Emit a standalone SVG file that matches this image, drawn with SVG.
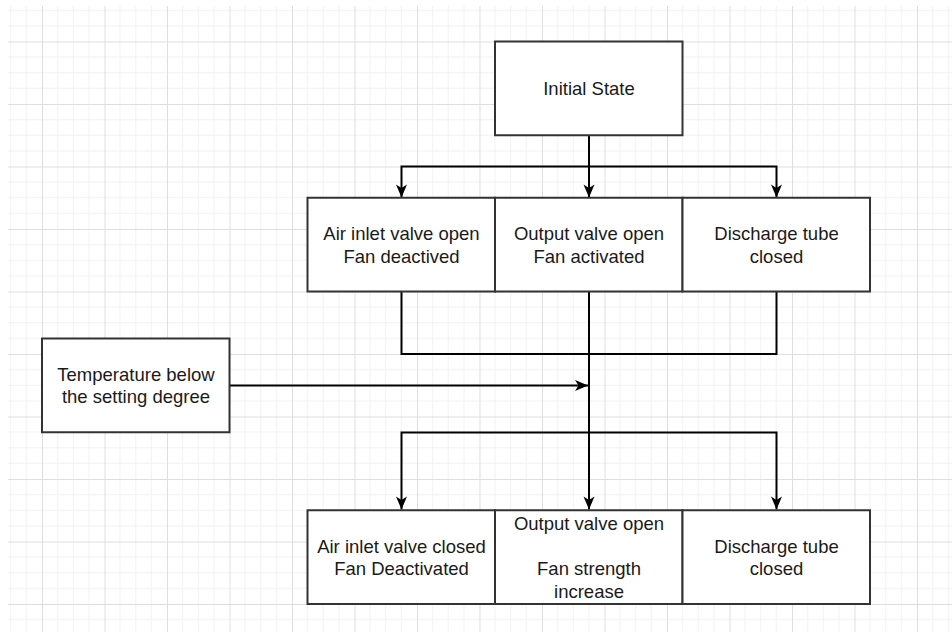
<svg xmlns="http://www.w3.org/2000/svg" width="952" height="632" viewBox="0 0 952 632">
  <defs>
    <pattern id="grid" patternUnits="userSpaceOnUse" x="-20.5" y="-21" width="62.5" height="62.5">
      <g stroke="#f1f1f1" stroke-width="1">
        <line x1="15.625" y1="0" x2="15.625" y2="62.5"/>
        <line x1="31.25" y1="0" x2="31.25" y2="62.5"/>
        <line x1="46.875" y1="0" x2="46.875" y2="62.5"/>
        <line x1="0" y1="15.625" x2="62.5" y2="15.625"/>
        <line x1="0" y1="31.25" x2="62.5" y2="31.25"/>
        <line x1="0" y1="46.875" x2="62.5" y2="46.875"/>
      </g>
      <g stroke="#dedede" stroke-width="1">
        <line x1="0.5" y1="0" x2="0.5" y2="62.5"/>
        <line x1="0" y1="0.5" x2="62.5" y2="0.5"/>
      </g>
    </pattern>
    <marker id="arrow" markerUnits="userSpaceOnUse" markerWidth="13" markerHeight="11" refX="13" refY="5.5" orient="auto" overflow="visible">
      <path d="M0,0 L13,5.5 L0,11 L3.5,5.5 Z" fill="#000"/>
    </marker>
  </defs>
  <style>
    .box { fill: #ffffff; stroke: #333333; stroke-width: 2; }
    .lbl { font-family: "Liberation Sans", Arial, Helvetica, sans-serif; font-size: 18.5px; fill: #1a1a1a; text-anchor: middle; }
    .conn { fill: none; stroke: #000000; stroke-width: 2; }
  </style>
  <rect x="0" y="0" width="952" height="632" fill="#ffffff"/>
  <rect x="8" y="6" width="944" height="626" fill="url(#grid)"/>

  <g id="connectors">
    <path class="conn" d="M589,135.5 V166.5 H401.5 V197.5" marker-end="url(#arrow)"/>
    <path class="conn" d="M589,166.5 V197.5" marker-end="url(#arrow)"/>
    <path class="conn" d="M589,166.5 H776.5 V197.5" marker-end="url(#arrow)"/>
    <path class="conn" d="M401.5,291.5 V354 H589"/>
    <path class="conn" d="M776.5,291.5 V354 H589"/>
    <path class="conn" d="M589,291.5 V509.5" marker-end="url(#arrow)"/>
    <path class="conn" d="M229.5,385.5 H588" marker-end="url(#arrow)"/>
    <path class="conn" d="M589,432.5 H401.5 V509.5" marker-end="url(#arrow)"/>
    <path class="conn" d="M589,432.5 H776.5 V509.5" marker-end="url(#arrow)"/>
  </g>

  <g id="initial-state">
    <rect class="box" x="495" y="41.5" width="187.5" height="93.75"/>
    <text class="lbl" x="589" y="95">Initial State</text>
  </g>

  <g id="air-inlet-open">
    <rect class="box" x="307.5" y="197.75" width="187.5" height="93.75"/>
    <text class="lbl" x="401.5" y="240">Air inlet valve open</text>
    <text class="lbl" x="401.5" y="262.5">Fan deactived</text>
  </g>
  <g id="output-valve-open">
    <rect class="box" x="495" y="197.75" width="187.5" height="93.75"/>
    <text class="lbl" x="589" y="240">Output valve open</text>
    <text class="lbl" x="589" y="262.5">Fan activated</text>
  </g>
  <g id="discharge-closed-1">
    <rect class="box" x="682.5" y="197.75" width="187.5" height="93.75"/>
    <text class="lbl" x="776.5" y="240">Discharge tube</text>
    <text class="lbl" x="776.5" y="262.5">closed</text>
  </g>

  <g id="temperature">
    <rect class="box" x="42" y="338.5" width="187.5" height="93.75"/>
    <text class="lbl" x="136" y="380.6">Temperature below</text>
    <text class="lbl" x="136" y="403">the setting degree</text>
  </g>

  <g id="air-inlet-closed">
    <rect class="box" x="307.5" y="510.25" width="187.5" height="93.75"/>
    <text class="lbl" x="401.5" y="552.5">Air inlet valve closed</text>
    <text class="lbl" x="401.5" y="575">Fan Deactivated</text>
  </g>
  <g id="fan-strength">
    <rect class="box" x="495" y="510.25" width="187.5" height="93.75"/>
    <text class="lbl" x="589" y="530">Output valve open</text>
    <text class="lbl" x="589" y="575">Fan strength</text>
    <text class="lbl" x="589" y="597.5">increase</text>
  </g>
  <g id="discharge-closed-2">
    <rect class="box" x="682.5" y="510.25" width="187.5" height="93.75"/>
    <text class="lbl" x="776.5" y="552.5">Discharge tube</text>
    <text class="lbl" x="776.5" y="575">closed</text>
  </g>
</svg>
